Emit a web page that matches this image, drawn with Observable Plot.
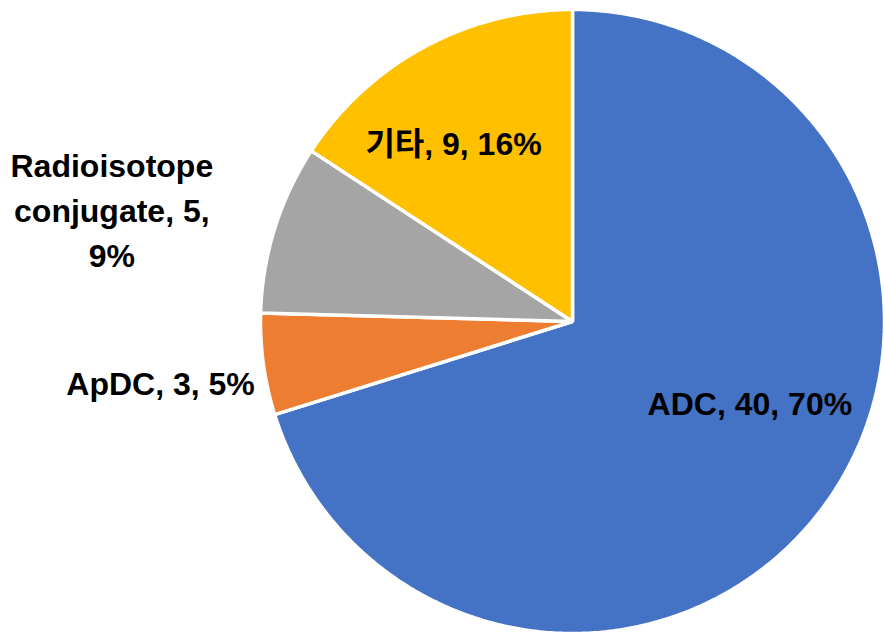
<!DOCTYPE html>
<html><head><meta charset="utf-8">
<script src="https://cdn.jsdelivr.net/npm/d3@7"></script>
<script src="https://cdn.jsdelivr.net/npm/@observablehq/plot@0.6"></script>
<style>body{margin:0;background:#fff}</style>
</head><body><div id="chart"></div>
<script>
// ---- data ----
const categories = ["ADC", "ApDC", "Radioisotope conjugate", "기타"];
const values = [40, 3, 5, 9];
const colors = ["#4472C4", "#ED7D31", "#A5A5A5", "#FFC000"];

// ---- layout ----
const R = 312;                 // pie radius in px
const CX = 572, CY = 321;      // pie centre in px
const labelRadius = [0.63, 1.333, 1.5, 0.68];          // fraction of radius at mid-angle
const labelNudge = [[19, -37], [0, 2], [-14, 26], [-18, 6]]; // px

const total = d3.sum(values);
const arcs = d3.pie().sort(null).value(d => d)(values);

const slicePts = [];
arcs.forEach((a, i) => {
  const cat = categories[i];
  slicePts.push({cat, x: 0, y: 0});
  const n = Math.max(2, Math.ceil((a.endAngle - a.startAngle) / (Math.PI / 360)));
  for (let k = 0; k <= n; k++) {
    const t = a.startAngle + (a.endAngle - a.startAngle) * k / n;
    slicePts.push({cat, x: Math.sin(t), y: Math.cos(t)});
  }
});

const labels = arcs.map((a, i) => {
  const m = (a.startAngle + a.endAngle) / 2;
  const r = labelRadius[i];
  return {
    cat: categories[i],
    x: r * Math.sin(m) + labelNudge[i][0] / R,
    y: r * Math.cos(m) - labelNudge[i][1] / R,
    text: `${categories[i]}, ${values[i]}, ${Math.round(values[i] / total * 100)}%`
  };
});

const chart = Plot.plot({
  width: 884, height: 632, margin: 0,
  x: {domain: [-1, 1], range: [CX - R, CX + R], axis: null},
  y: {domain: [-1, 1], range: [CY + R, CY - R], axis: null},
  color: {domain: categories, range: colors},
  marks: [
    Plot.line(slicePts, {x: "x", y: "y", z: "cat", fill: "cat", stroke: "white",
      strokeWidth: 3.5, curve: "linear-closed", strokeLinejoin: "miter"}),
    Plot.text(labels, {x: "x", y: "y", text: "text", fill: "black", fontSize: 32,
      fontWeight: "bold", lineWidth: 7, lineHeight: 1.4,
      fontFamily: "'Liberation Sans', Arial, 'Noto Sans CJK KR', sans-serif"})
  ]
});
chart.style.fontFamily = "'Liberation Sans', Arial, 'Noto Sans CJK KR', sans-serif";
document.getElementById("chart").appendChild(chart);
</script>
</body></html>
